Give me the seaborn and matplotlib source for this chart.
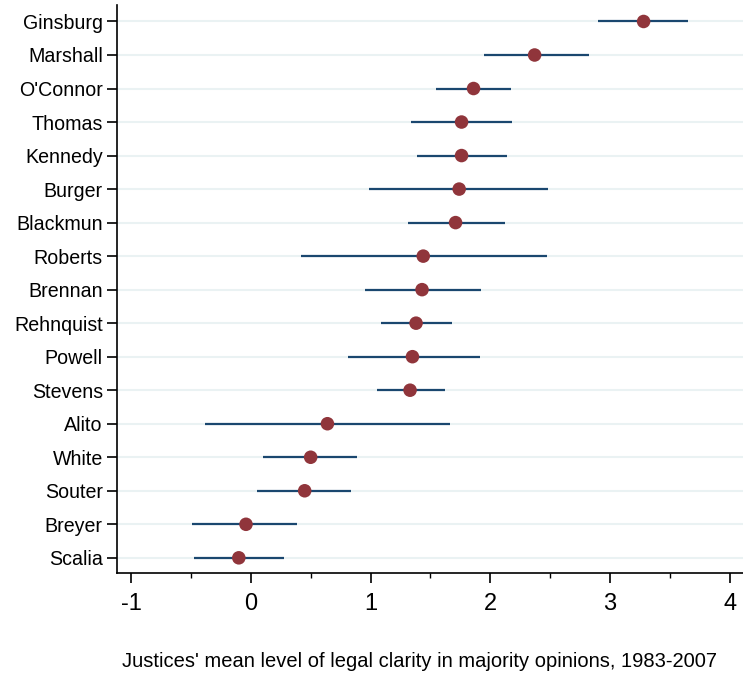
import numpy as np
import pandas as pd
import seaborn as sns
import matplotlib.pyplot as plt
from matplotlib.ticker import MultipleLocator

justices = ["Ginsburg", "Marshall", "O'Connor", "Thomas", "Kennedy", "Burger",
            "Blackmun", "Roberts", "Brennan", "Rehnquist", "Powell", "Stevens",
            "Alito", "White", "Souter", "Breyer", "Scalia"]
mean_clarity = [3.28, 2.37, 1.86, 1.76, 1.76, 1.74, 1.71, 1.44, 1.43, 1.38,
                1.35, 1.33, 0.64, 0.50, 0.45, -0.04, -0.10]
ci_low = [2.90, 1.95, 1.55, 1.34, 1.39, 0.99, 1.31, 0.42, 0.95, 1.09,
          0.81, 1.05, -0.38, 0.10, 0.05, -0.49, -0.47]
ci_high = [3.65, 2.82, 2.17, 2.18, 2.14, 2.48, 2.12, 2.47, 1.92, 1.68,
           1.91, 1.62, 1.66, 0.89, 0.84, 0.39, 0.28]

df = pd.DataFrame({"justice": justices, "mean": mean_clarity,
                   "lo": ci_low, "hi": ci_high})

sns.set_theme(style="white")
plt.rcParams['font.family'] = ['Liberation Sans', 'DejaVu Sans']
plt.rcParams['text.color'] = 'black'
plt.rcParams['xtick.color'] = 'black'
plt.rcParams['ytick.color'] = 'black'
plt.rcParams['axes.labelcolor'] = 'black'

fig = plt.figure(figsize=(7.43, 6.74), dpi=100)
ax = fig.add_axes([0.157, 0.150, 0.843, 0.843])

ypos = np.arange(len(justices))
for y in ypos:
    ax.axhline(y, color="#eaf2f3", lw=1.5, zorder=0)

# confidence intervals, then the means on top
ax.hlines(ypos, df["lo"], df["hi"], color="#1a476f", lw=1.6, zorder=2)
sns.scatterplot(data=df, x="mean", y=ypos, color="#90353b", s=95,
                edgecolor="none", zorder=3, ax=ax)

ax.set_yticks(ypos)
ax.set_yticklabels(justices, fontsize=14.1)
ax.set_ylim(len(justices) - 0.55, -0.5)
ax.set_xlim(-1.12, 4.11)
ax.xaxis.set_major_locator(MultipleLocator(1))
ax.xaxis.set_minor_locator(MultipleLocator(0.5))
ax.tick_params(axis="x", which="major", length=7.5, width=1.2, labelsize=17,
               pad=7, bottom=True)
ax.tick_params(axis="x", which="minor", length=3.5, width=1, bottom=True)
ax.tick_params(axis="y", length=7.5, width=1.2, left=True, pad=2.5)
ax.set_xticklabels([str(int(v)) for v in ax.get_xticks()])
ax.set_xlabel("Justices' mean level of legal clarity in majority opinions, 1983-2007",
              fontsize=14.5)
ax.xaxis.set_label_coords(0.483, -0.14)
ax.set_ylabel("")

sns.despine(ax=ax)
for s in ["left", "bottom"]:
    ax.spines[s].set_color("black")
    ax.spines[s].set_linewidth(1.2)

fig.savefig("out.png", dpi=100)
